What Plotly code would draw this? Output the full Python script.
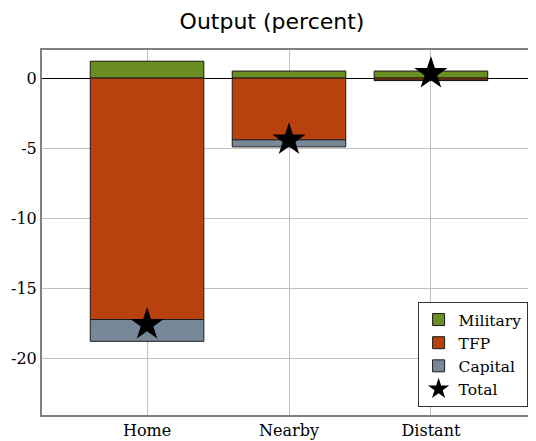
import plotly.graph_objects as go

categories = ["Home", "Nearby", "Distant"]
military = [1.2, 0.5, 0.5]
tfp = [-17.2, -4.4, -0.15]
capital = [-1.55, -0.5, -0.03]
total = [-17.55, -4.4, 0.33]

y_ticks = [0, -5, -10, -15, -20]

fig = go.Figure()
line = dict(color="#1a1a1a", width=1)
fig.add_trace(go.Bar(name="Military", x=categories, y=military,
                     marker=dict(color="#6b8e23", line=line), width=0.8))
fig.add_trace(go.Bar(name="TFP", x=categories, y=tfp,
                     marker=dict(color="#b8410e", line=line), width=0.8))
fig.add_trace(go.Bar(name="Capital", x=categories, y=capital,
                     marker=dict(color="#778899", line=line), width=0.8))
fig.add_trace(go.Scatter(name="Total", x=categories, y=total, mode="markers",
                         marker=dict(symbol="star", size=25, color="black",
                                     line=dict(width=0))))

# page body has an 8px default margin, so the figure is sized to fit the window
fig.update_layout(
    width=528, height=433,
    barmode="relative",
    plot_bgcolor="white", paper_bgcolor="white",
    margin=dict(l=34, r=0, t=42, b=26),
    title=dict(text="Output (percent)", x=0.5, xanchor="center", y=0.97, yanchor="middle",
               font=dict(family="DejaVu Sans", size=22, color="black")),
    showlegend=True,
    legend=dict(x=0.983, xanchor="right", y=0.022, yanchor="bottom",
                bordercolor="#333333", borderwidth=1, bgcolor="white",
                font=dict(family="DejaVu Serif", size=15.5, color="black"),
                tracegroupgap=0, itemwidth=30),
    font=dict(family="DejaVu Serif", size=16, color="black"),
)
fig.update_xaxes(range=[-0.74, 2.74], showgrid=True, gridcolor="#c0c0c0", gridwidth=1,
                 showline=True, linecolor="#808080", linewidth=2, mirror=True,
                 ticks="", tickfont=dict(family="DejaVu Serif", size=16))
fig.update_yaxes(range=[-24, 2], tickvals=y_ticks, ticktext=[str(v) for v in y_ticks],
                 showgrid=True, gridcolor="#c0c0c0", gridwidth=1,
                 zeroline=True, zerolinecolor="black", zerolinewidth=1,
                 showline=True, linecolor="#808080", linewidth=2,
                 ticks="", tickfont=dict(family="DejaVu Serif", size=16))

fig.write_html("out.html")
